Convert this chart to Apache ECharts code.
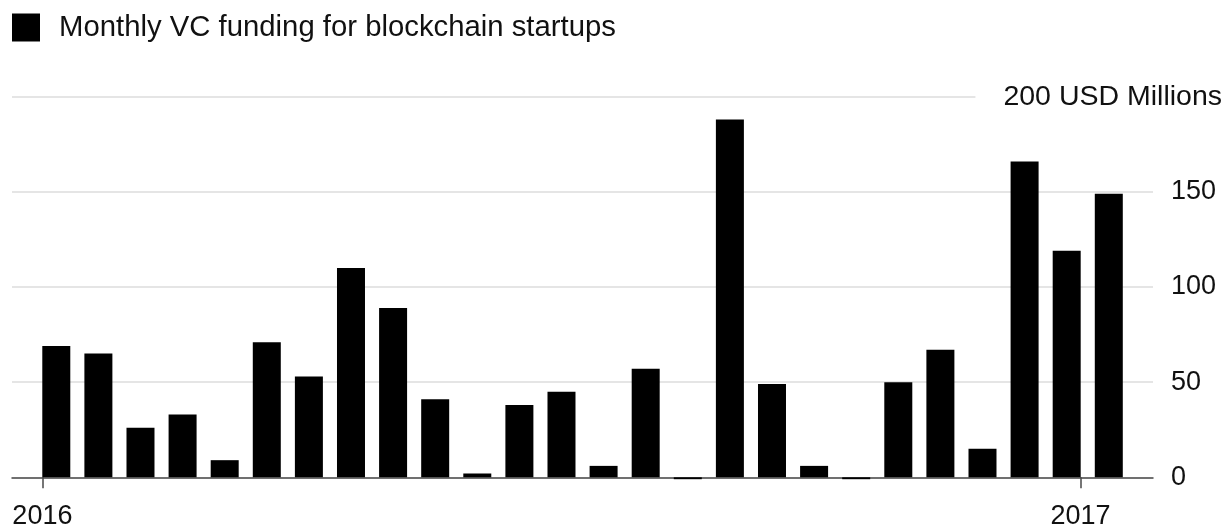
<!DOCTYPE html>
<html>
<head>
<meta charset="utf-8">
<script src="https://cdn.jsdelivr.net/npm/echarts@6/dist/echarts.min.js"></script>
<style>
  html, body { margin: 0; padding: 0; background: #fff; }
  #chart { width: 1229px; height: 528px; }
</style>
</head>
<body>
<div id="chart"></div>
<script>
// Monthly VC funding for blockchain startups, USD millions, one bar per month
const seriesName = 'Monthly VC funding for blockchain startups';
const funding = [69, 65, 26, 33, 9, 71, 53, 110, 89, 41, 2, 38, 45, 6, 57, -1, 188, 49, 6, -1, 50, 67, 15, 166, 119, 149];
// Year markers on the month axis (month index where each year tick sits)
const yearTicks = [
  { label: '2016', at: -0.33 },
  { label: '2017', at: 24.33 }
];
const yTickValues = [0, 50, 100, 150, 200];
const unitLabel = 'USD Millions';

const FONT = 'Liberation Sans, Arial, Helvetica, sans-serif';
const TEXT = '#111';
const yMax = yTickValues[yTickValues.length - 1];

const chart = echarts.init(document.getElementById('chart'));
chart.setOption({
  animation: false,
  backgroundColor: '#fff',
  textStyle: { fontFamily: FONT },
  legend: {
    data: [seriesName],
    left: 12,
    top: 13,
    padding: 0,
    icon: 'rect',
    itemWidth: 28,
    itemHeight: 28,
    selectedMode: false,
    textStyle: { fontSize: 29.3, color: TEXT, fontFamily: FONT, padding: [0, 0, 0, 14] }
  },
  grid: {
    left: 12,
    right: 76,
    top: 96.7,
    bottom: 50.7,
    containLabel: false,
    outerBoundsMode: 'none'
  },
  xAxis: {
    type: 'value',
    min: -1.052,
    max: 26.05,
    splitLine: { show: false },
    axisLine: { show: true, onZero: false, lineStyle: { color: '#4a4a4a', width: 1.5 } },
    axisTick: {
      show: true,
      customValues: yearTicks.map(t => t.at),
      length: 11,
      lineStyle: { color: '#4a4a4a', width: 1.5 }
    },
    axisLabel: {
      show: true,
      customValues: yearTicks.map(t => t.at),
      formatter: v => {
        const t = yearTicks.find(y => Math.abs(y.at - v) < 1e-6);
        return t ? t.label : '';
      },
      margin: 26,
      fontSize: 27,
      color: TEXT,
      fontFamily: FONT
    }
  },
  yAxis: [
    {
      type: 'value',
      position: 'right',
      min: yTickValues[0],
      max: yMax,
      interval: yTickValues[1] - yTickValues[0],
      axisLine: { show: false },
      axisTick: { show: false },
      splitLine: { show: true, lineStyle: { color: '#dcdcdc', width: 1.5 } },
      axisLabel: {
        align: 'left',
        margin: 18,
        fontSize: 27,
        color: TEXT,
        fontFamily: FONT,
        formatter: v => (v === yMax ? '' : String(v))
      }
    },
    {
      type: 'value',
      position: 'right',
      min: yTickValues[0],
      max: yMax,
      interval: yMax,
      axisLine: { show: false },
      axisTick: { show: false },
      splitLine: { show: false },
      axisLabel: {
        align: 'right',
        margin: 69,
        fontSize: 28.5,
        color: TEXT,
        fontFamily: FONT,
        backgroundColor: '#fff',
        padding: [4, 0, 4, 28],
        formatter: v => (v === yMax ? yMax + ' ' + unitLabel : '')
      }
    }
  ],
  series: [
    {
      name: seriesName,
      type: 'bar',
      xAxisIndex: 0,
      yAxisIndex: 0,
      clip: false,
      barWidth: 28,
      itemStyle: { color: '#000' },
      data: funding.map((v, i) => [i, v])
    }
  ]
});
</script>
</body>
</html>
